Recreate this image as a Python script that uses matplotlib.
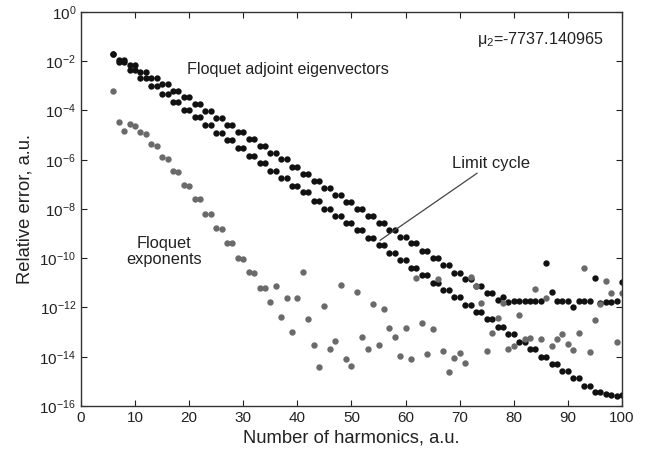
import numpy as np
import matplotlib
matplotlib.use("Agg")
import matplotlib.pyplot as plt

plt.rcParams['font.family'] = ['Liberation Sans', 'DejaVu Sans']
plt.rcParams['mathtext.default'] = 'regular'
plt.rcParams['axes.unicode_minus'] = False

harmonics = list(range(6, 101))

# log10 of relative error
adjoint_log = [
    -1.69,
    -1.94, -1.94, -2.14, -2.14, -2.42, -2.42, -2.68, -2.68, -2.93, -2.93,
    -3.21, -3.21, -3.47, -3.47, -3.75, -3.75, -4.03, -4.03, -4.30, -4.30,
    -4.59, -4.59, -4.87, -4.87, -5.14, -5.14, -5.45, -5.45, -5.72, -5.72,
    -5.99, -5.99, -6.29, -6.29, -6.56, -6.56, -6.86, -6.86, -7.13, -7.13,
    -7.43, -7.43, -7.70, -7.70, -7.99, -7.99, -8.29, -8.29, -8.56, -8.56,
    -8.86, -8.86, -9.13, -9.13, -9.40, -9.40, -9.71, -9.71, -9.98, -9.98,
    -10.29, -10.29, -10.58, -10.58, -10.86, -10.86, -11.13, -11.13, -11.40, -11.40,
    -11.70, -11.58,
    -11.76, -11.74, -11.74, -11.74, -11.74, -11.74, -11.74,
    -10.19, -11.36, -11.74, -11.74, -11.74, -11.97, -11.74, -11.74, -11.74,
    -10.80, -11.81, -11.79, -11.79, -11.74, -10.96,
]

limit_cycle_log = [
    -1.69,
    -2.04, -2.04, -2.37, -2.37, -2.68, -2.68, -3.02, -3.02, -3.31, -3.31,
    -3.65, -3.65, -3.96, -3.96, -4.28, -4.28, -4.60, -4.60, -4.91, -4.91,
    -5.21, -5.21, -5.53, -5.53, -5.85, -5.85, -6.15, -6.15, -6.47, -6.47,
    -6.76, -6.76, -7.06, -7.06, -7.33, -7.33, -7.67, -7.67, -7.98, -7.98,
    -8.28, -8.28, -8.58, -8.58, -8.87, -8.87, -9.18, -9.18, -9.48, -9.48,
    -9.78, -9.78, -10.08, -10.08, -10.40, -10.40, -10.70, -10.70, -11.00, -11.00,
    -11.29, -11.29, -11.59, -11.59, -11.90, -11.90, -12.20, -12.20, -12.48, -12.48,
    -12.78, -12.78, -13.08, -13.08, -13.39, -13.39, -13.69, -13.69, -14.00, -14.00,
    -14.30, -14.30, -14.59, -14.59, -14.88, -14.88, -15.18, -15.18, -15.42, -15.42,
    -15.53, -15.57, -15.60, -15.55,
]

exponents_log = [
    -3.21, -4.46, -4.85, -4.55, -4.62, -4.87, -4.94, -5.37, -5.43, -5.90,
    -5.95, -6.46, -6.50, -7.04, -7.07, -7.60, -7.61, -8.21, -8.22, -8.79,
    -8.81, -9.40, -9.40, -10.01, -10.02, -10.57, -10.61, -11.20, -11.20, -11.78,
    -11.13, -12.38, -11.63, -12.99, -11.62, -10.56, -12.47, -13.53, -14.41, -11.93,
    -13.68, -13.35, -11.08, -14.08, -14.38, -11.38, -13.21, -13.68, -11.87, -13.53,
    -12.06, -12.85, -13.19, -13.95, -12.82, -14.09, -10.81, -12.61, -13.90, -12.89,
    -10.86, -13.77, -14.63, -14.06, -13.84, -14.24, -10.75, -11.13, -11.83, -13.76,
    -13.03, -12.42, -11.83, -13.68, -13.57, -12.30, -13.29, -13.23, -11.24, -13.28,
    -11.63, -13.58, -13.29, -13.06, -13.49, -13.73, -13.03, -10.38, -13.81, -12.52,
    -11.85, -10.93, -11.43, -13.42, -11.43,
]

x_ticks = list(range(0, 101, 10))
y_exps = list(range(0, -17, -2))

fig = plt.figure(figsize=(6.6, 4.51), dpi=100)
ax = fig.add_axes([0.1227, 0.0998, 0.8197, 0.8736])

def pts(xs, ls):
    n = min(len(xs), len(ls))
    return np.array(xs[:n]), np.power(10.0, np.array(ls[:n]))

xa, ya = pts(harmonics, adjoint_log)
xl, yl = pts(harmonics, limit_cycle_log)
xe, ye = pts(harmonics, exponents_log)

ax.plot(xa, ya, 'o', color='#111111', ms=4.6, mec='none')
ax.plot(xl, yl, 'o', color='#111111', ms=4.6, mec='none')
ax.plot(xe, ye, 'o', color='#6a6a6a', ms=4.6, mec='none')

ax.set_yscale('log')
ax.set_xlim(0, 100)
ax.set_ylim(1e-16, 1)
ax.set_xticks(x_ticks)
ax.set_xticklabels([str(t) for t in x_ticks])
ax.set_yticks([10.0 ** e for e in y_exps])
ax.set_yticklabels([r'$10^{%d}$' % e for e in y_exps])
ax.minorticks_off()
ax.tick_params(direction='in', top=True, right=True, length=4, width=0.8,
               labelsize=11, colors='#222222')
for s in ax.spines.values():
    s.set_linewidth(1.0)
    s.set_color('#333333')

ax.set_xlabel('Number of harmonics, a.u.', fontsize=13.2, color='#222222', labelpad=3)
ax.set_ylabel('Relative error, a.u.', fontsize=13.2, color='#222222', labelpad=4)

ax.text(19.6, 10 ** -2.33, 'Floquet adjoint eigenvectors', fontsize=11.6,
        va='center', ha='left', color='#222222')
ax.text(68.6, 10 ** -6.14, 'Limit cycle', fontsize=12, va='center', ha='left',
        color='#222222')
ax.text(15.4, 10 ** -9.71, 'Floquet\nexponents', fontsize=11.8, va='center',
        ha='center', color='#222222', linespacing=1.1)
ax.text(96.6, 10 ** -1.11, 'μ$_2$=-7737.140965', fontsize=11.6, va='center',
        ha='right', color='#222222')
ax.plot([55.3, 73.2], [10 ** -9.27, 10 ** -6.55], '-', color='#444444', lw=0.9)

fig.savefig('out.png', dpi=100)
